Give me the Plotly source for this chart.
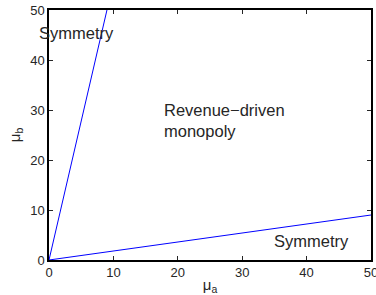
import plotly.graph_objects as go

# Boundary lines (mu_a, mu_b)
line1_x = [0, 9]
line1_y = [0, 50]
line2_x = [0, 50]
line2_y = [0, 9]

tick_vals = [0, 10, 20, 30, 40, 50]

labels = ["Symmetry", "Revenue\u2212driven<br>monopoly", "Symmetry"]
label_x = [0, 17.5, 34.6]
label_y = [45.4, 28, 3.8]
label_shift = [-12, 0, 0]

FONT = "Liberation Sans, Arial, sans-serif"

fig = go.Figure()
for xs, ys in [(line1_x, line1_y), (line2_x, line2_y)]:
    fig.add_trace(go.Scatter(x=xs, y=ys, mode="lines",
                             line=dict(color="#0000ff", width=1),
                             showlegend=False, hoverinfo="skip"))

for t, x, y, s in zip(labels, label_x, label_y, label_shift):
    fig.add_annotation(x=x, y=y, text=t, showarrow=False, xanchor="left",
                       yanchor="middle", align="left", xshift=s,
                       font=dict(size=16.5, color="#262626", family=FONT))

axis_common = dict(range=[0, 50], tickvals=tick_vals, ticks="inside", ticklen=4,
                   tickcolor="#262626", showline=True, linecolor="black",
                   linewidth=1.5, mirror="ticks", showgrid=False, zeroline=False,
                   automargin=False, ticklabeloverflow="allow",
                   tickfont=dict(size=13, color="#262626", family=FONT))

fig.update_layout(
    width=376, height=295,
    margin=dict(l=49, r=5, t=10, b=35),
    plot_bgcolor="white", paper_bgcolor="white",
    xaxis=dict(**axis_common,
               title=dict(text="\u03bc<sub>a</sub>", standoff=0,
                          font=dict(size=15, color="#262626", family=FONT))),
    yaxis=dict(**axis_common,
               title=dict(text="\u03bc<sub>b</sub>", standoff=6,
                          font=dict(size=15, color="#262626", family=FONT))),
)

fig.write_html("out.html", config={"displayModeBar": False},
               post_script="document.body.style.margin='0';document.body.style.overflow='hidden';")
